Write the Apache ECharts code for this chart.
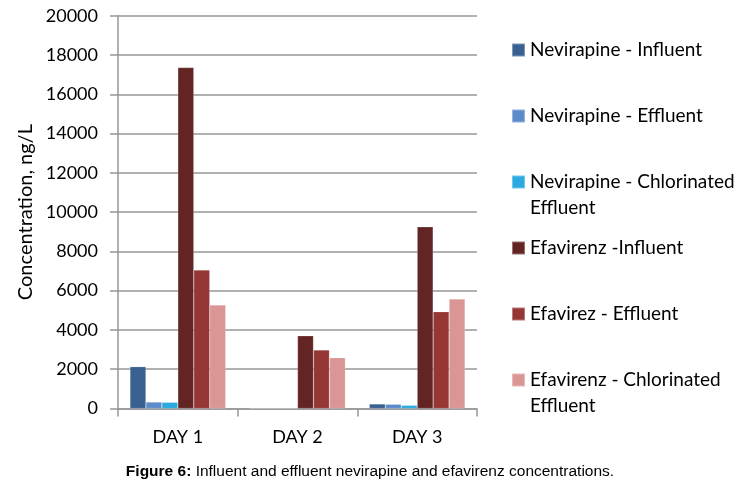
<!DOCTYPE html>
<html>
<head>
<meta charset="utf-8">
<script src="https://cdn.jsdelivr.net/npm/echarts@6/dist/echarts.min.js"></script>
<style>html,body{margin:0;padding:0;background:#fff;}#c{width:751px;height:491px;}</style>
</head>
<body>
<div id="c"></div>
<script>
var categories = ['DAY 1', 'DAY 2', 'DAY 3'];
var seriesNames = [
  'Nevirapine - Influent',
  'Nevirapine - Effluent',
  'Nevirapine - Chlorinated Effluent',
  'Efavirenz -Influent',
  'Efavirez - Effluent',
  'Efavirenz - Chlorinated Effluent'
];
var nevirapineInfluent = [2130, 0, 230];
var nevirapineEffluent = [330, 0, 215];
var nevirapineChlorinated = [315, 0, 165];
var efavirenzInfluent = [17360, 3700, 9250];
var efavirenzEffluent = [7050, 2980, 4930];
var efavirenzChlorinated = [5270, 2590, 5570];
var yTicks = {min: 0, max: 20000, interval: 2000};
var legendLabels = {
  'Nevirapine - Chlorinated Effluent': 'Nevirapine - Chlorinated\nEffluent',
  'Efavirenz - Chlorinated Effluent': 'Efavirenz - Chlorinated\nEffluent'
};
var colors = ['#386192', '#5c8bca', '#2aaae1', '#632524', '#963735', '#d99694'];
var allData = [nevirapineInfluent, nevirapineEffluent, nevirapineChlorinated,
               efavirenzInfluent, efavirenzEffluent, efavirenzChlorinated];

var font = 'Lato';
var chart = echarts.init(document.getElementById('c'), null, {renderer: 'canvas'});
chart.setOption({
  animation: false,
  backgroundColor: '#ffffff',
  color: colors,
  textStyle: {fontFamily: font},
  grid: {left: 118, right: 274, top: 15.7, bottom: 82.5, containLabel: false},
  legend: {
    orient: 'vertical',
    left: 511,
    top: 11,
    padding: 0,
    itemWidth: 13,
    itemHeight: 13,
    itemGap: -12,
    icon: 'rect',
    data: seriesNames,
    formatter: function (n) {
      var t = legendLabels[n];
      return t ? '\n' + t : '\n' + n + '\n';
    },
    textStyle: {fontFamily: font, fontSize: 19, color: '#000', lineHeight: 26}
  },
  title: {
    text: '{b|Figure 6:} Influent and effluent nevirapine and efavirenz concentrations.',
    left: 370,
    textAlign: 'center',
    top: 464,
    padding: 0,
    textStyle: {
      fontFamily: 'Liberation Sans', fontSize: 15.5, fontWeight: 'normal', color: '#000',
      rich: {b: {fontFamily: 'Liberation Sans', fontSize: 15.5, fontWeight: 'bold', color: '#000'}}
    }
  },
  xAxis: {
    type: 'category',
    data: categories,
    boundaryGap: true,
    axisLine: {lineStyle: {color: '#979797', width: 1.5}},
    axisTick: {show: true, length: 8, lineStyle: {color: '#979797', width: 1.5}},
    axisLabel: {fontFamily: font, fontSize: 18, color: '#000', margin: 20}
  },
  yAxis: {
    type: 'value',
    min: yTicks.min,
    max: yTicks.max,
    interval: yTicks.interval,
    name: 'Concentration, ng/L',
    nameLocation: 'middle',
    nameGap: 82,
    nameTextStyle: {fontFamily: font, fontSize: 20, color: '#000'},
    axisLine: {show: true, lineStyle: {color: '#979797', width: 1.5}},
    axisTick: {show: true, length: 8, lineStyle: {color: '#979797', width: 1.5}},
    axisLabel: {fontFamily: font, fontSize: 18, color: '#000', margin: 20,
                formatter: function (v) { return String(v); }},
    splitLine: {show: true, lineStyle: {color: '#979797', width: 1.5}}
  },
  series: seriesNames.map(function (n, i) {
    return {
      name: n,
      type: 'bar',
      data: allData[i],
      barGap: '0%',
      barCategoryGap: '20%',
      itemStyle: {color: colors[i], borderColor: 'rgba(255,255,255,0.35)', borderWidth: 0.5}
    };
  })
});
</script>
</body>
</html>
